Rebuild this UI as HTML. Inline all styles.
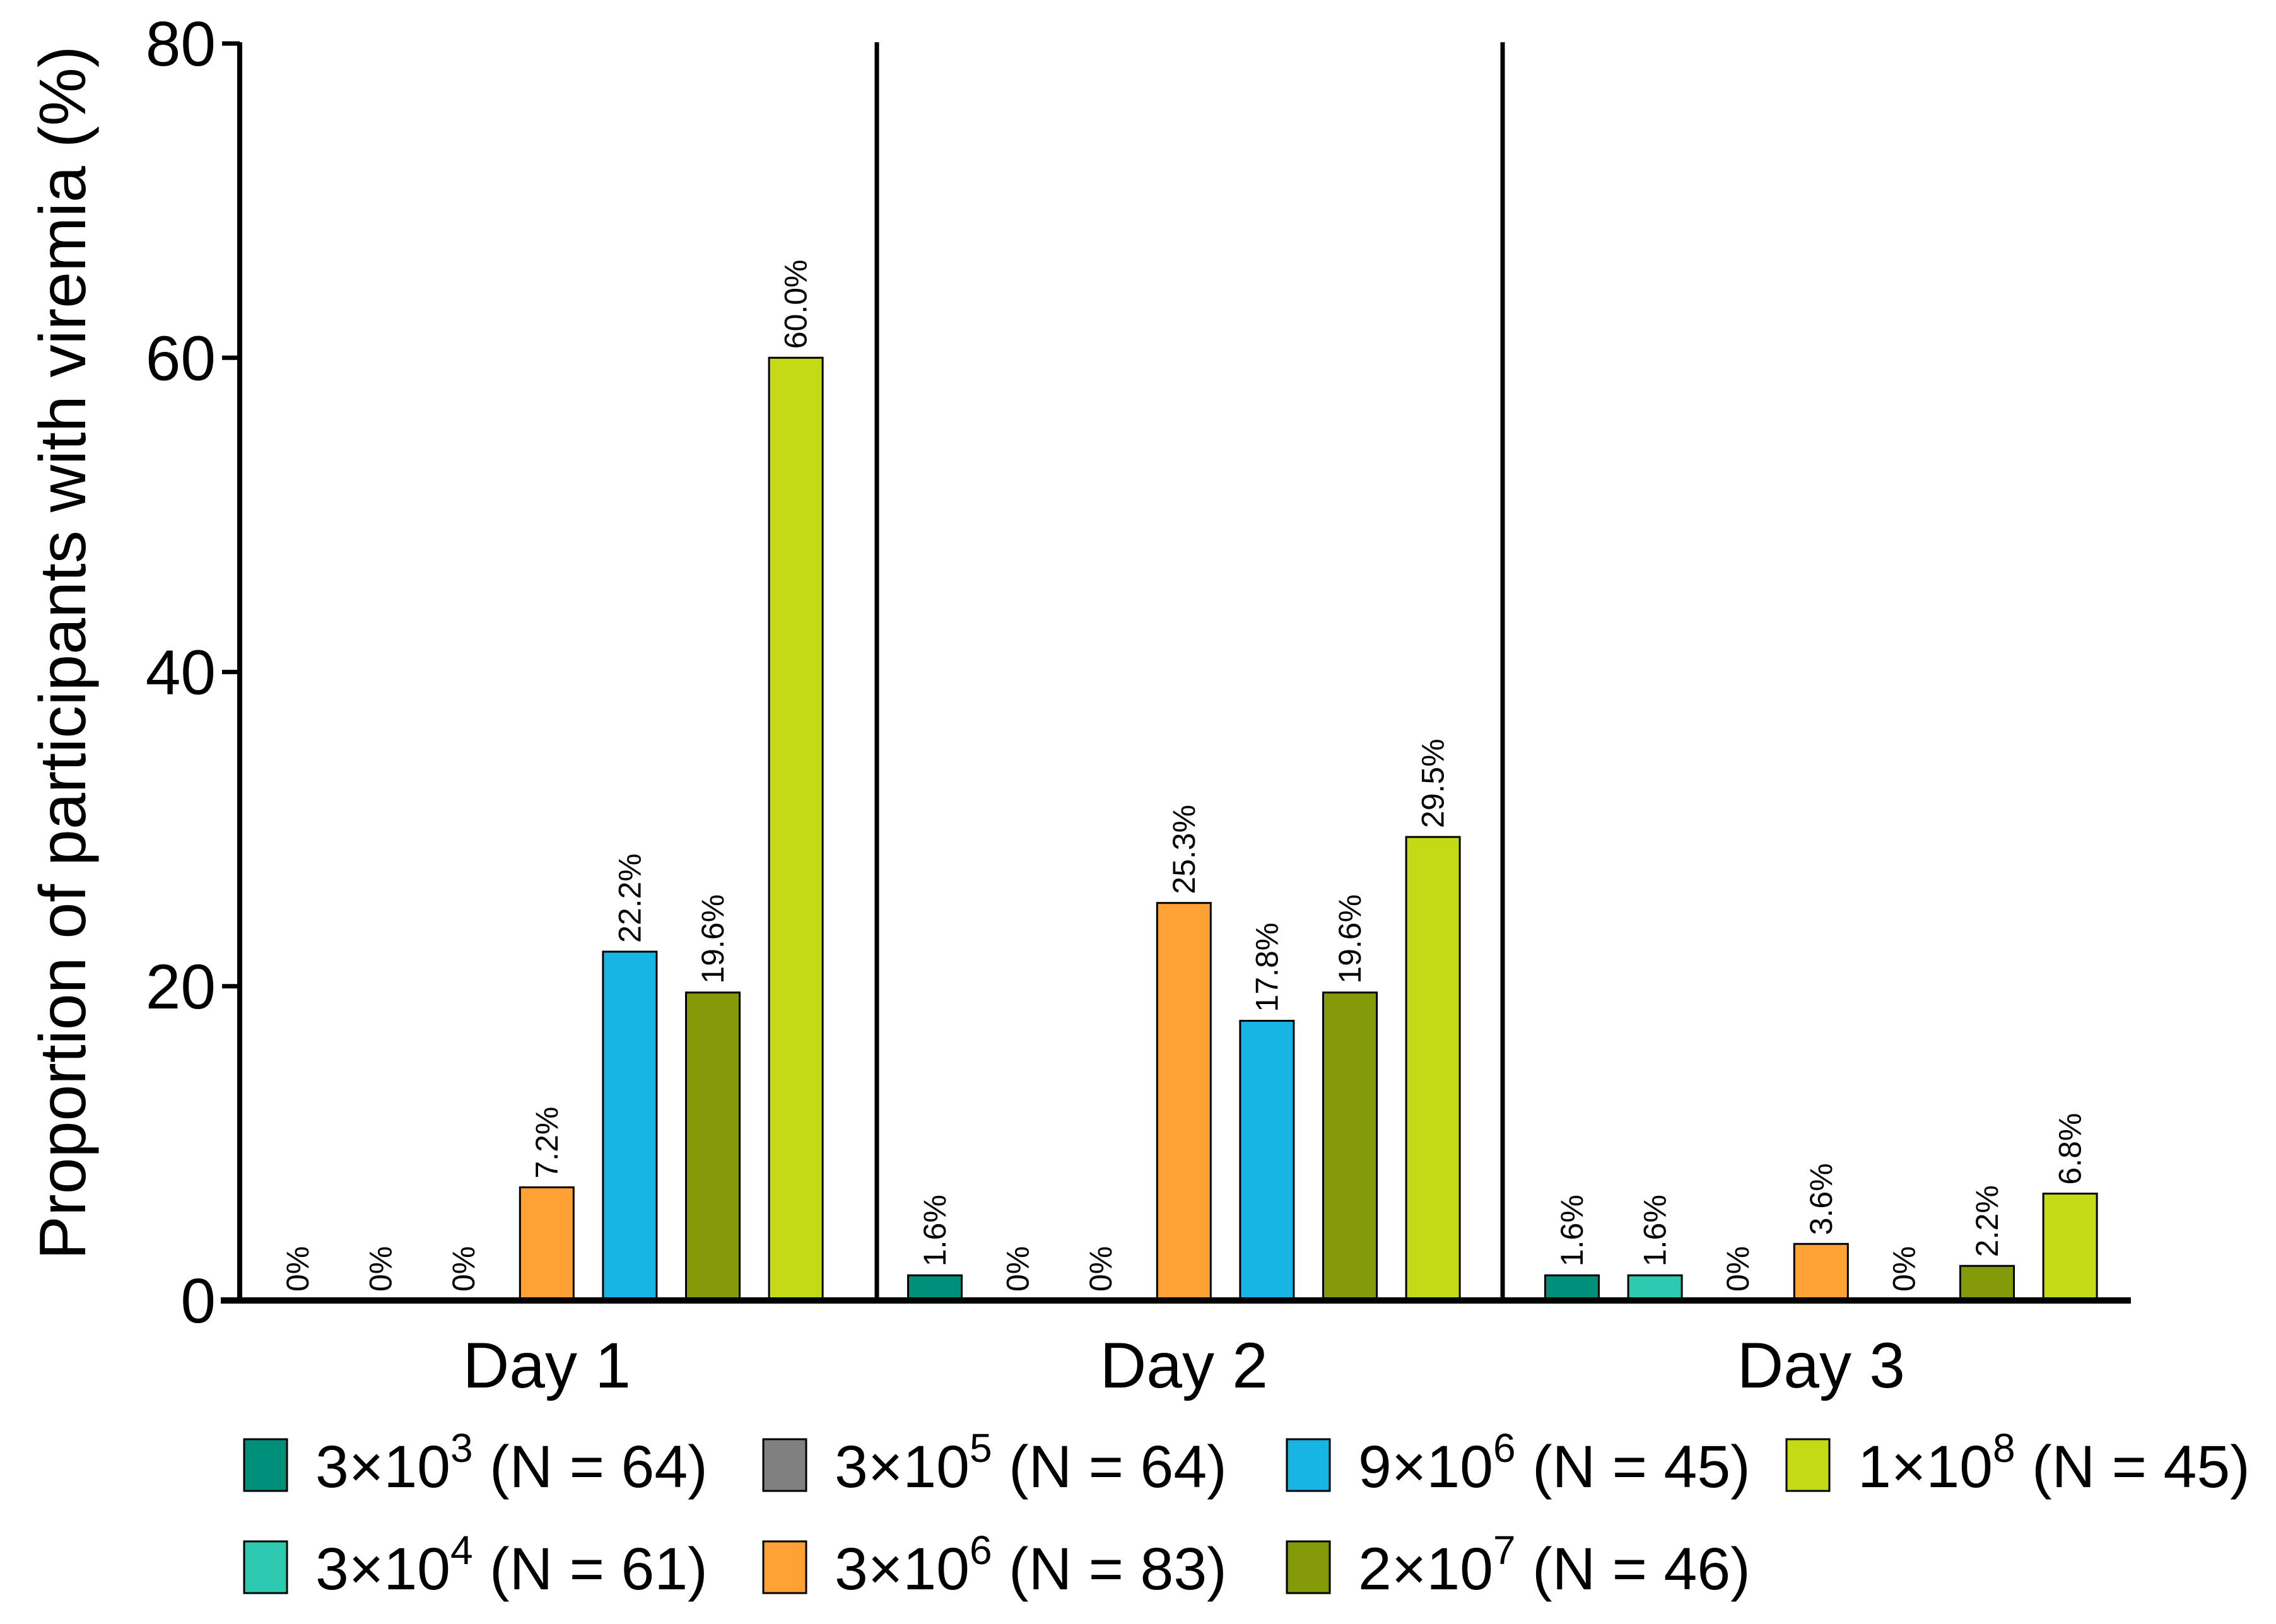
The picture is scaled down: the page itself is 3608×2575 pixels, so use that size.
<!DOCTYPE html>
<html><head><meta charset="utf-8"><style>
html,body{margin:0;padding:0;background:#fff;}
svg{display:block;font-family:"Liberation Sans",sans-serif;}
</style></head><body>
<svg id="chart" width="3608" height="2575" viewBox="0 0 3608 2575" xmlns="http://www.w3.org/2000/svg">
<g id="bars"></g>
<g id="axes"></g>
<g id="legend"></g>
</svg>
<script>
const days = ["Day 1", "Day 2", "Day 3"];
const doses = ["3×10³","3×10⁴","3×10⁵","3×10⁶","9×10⁶","2×10⁷","1×10⁸"];
const doseBase = ["3×10","3×10","3×10","3×10","9×10","2×10","1×10"];
const doseExp = ["3","4","5","6","6","7","8"];
const doseN = [64, 61, 64, 83, 45, 46, 45];
const day1 = [0, 0, 0, 7.2, 22.2, 19.6, 60.0];
const day2 = [1.6, 0, 0, 25.3, 17.8, 19.6, 29.5];
const day3 = [1.6, 1.6, 0, 3.6, 0, 2.2, 6.8];
const yTicks = [0, 20, 40, 60, 80];
const colors = ["#00907a","#2ecab0","#808080","#ffa135","#16b5e3","#849a08","#c4da14"];

const NS = "http://www.w3.org/2000/svg";
function mk(tag, attrs, parent, text){
  const e = document.createElementNS(NS, tag);
  for (const k in attrs) e.setAttribute(k, attrs[k]);
  if (text !== undefined) e.textContent = text;
  parent.appendChild(e); return e;
}
const x0 = 380, xEnd = 3378, yTop = 69, yZero = 2062, yMax = 80;
const y = v => yZero - (yZero - yTop) * v / yMax;
const firstCenter = 472, barStep = 131.6, groupStep = 1010, barW = 85;
const xc = (g, i) => firstCenter + g * groupStep + i * barStep;

const bars = document.getElementById('bars');
const axes = document.getElementById('axes');
const legend = document.getElementById('legend');
const series = [day1, day2, day3];

series.forEach((vals, g) => {
  vals.forEach((v, i) => {
    const cx = xc(g, i);
    if (v > 0) {
      const r = mk('rect', {x: cx - barW/2, y: y(v), width: barW, height: yZero - y(v), fill: colors[i], stroke: '#000', 'stroke-width': 3}, bars);
      
      
    }
    const label = v === 0 ? '0%' : v.toFixed(1) + '%';
    const ty = y(v) - 14;
    const t = mk('text', {x: cx + 17, y: ty, transform: `rotate(-90 ${cx + 17} ${ty})`, 'font-size': 50, fill: '#000'}, bars, label);
    
    
  });
});

let a = mk('line', {x1: x0, y1: yTop - 2, x2: x0, y2: yZero + 5, stroke: '#000', 'stroke-width': 8}, axes);
 
a = mk('line', {x1: x0 - 30, y1: yZero, x2: xEnd, y2: yZero, stroke: '#000', 'stroke-width': 10}, axes);
 
[1390, 2382].forEach((dx, k) => {
  const l = mk('line', {x1: dx, y1: yTop - 2, x2: dx, y2: yZero, stroke: '#000', 'stroke-width': 7}, axes);
  
  
});
yTicks.forEach(v => {
  const tl = mk('line', {x1: x0 - 28, y1: y(v), x2: x0, y2: y(v), stroke: '#000', 'stroke-width': 7}, axes);
  
  
  const tt = mk('text', {x: x0 - 38, y: y(v) + 35, 'text-anchor': 'end', 'font-size': 100, fill: '#000'}, axes, String(v));
  
  
});
days.forEach((d, g) => {
  const cx = xc(g, 3);
  const t = mk('text', {x: cx, y: 2200, 'text-anchor': 'middle', 'font-size': 102, fill: '#000'}, axes, d);
  
  
});
const yt = mk('text', {x: 0, y: 0, transform: 'translate(135 1035) rotate(-90)', 'text-anchor': 'middle', 'font-size': 104, fill: '#000'}, axes, 'Proportion of participants with viremia (%)');



const legPos = [[0,0],[0,1],[1,0],[1,1],[2,0],[2,1],[3,0]];
const colX = [387, 1210, 2040, 2832];
const rowY = [2324, 2486];
doses.forEach((d, i) => {
  const [c, r] = legPos[i];
  const gx = colX[c], gy = rowY[r];
  const g = mk('g', {}, legend);
  
  
  mk('rect', {x: gx, y: gy - 42, width: 68, height: 82, fill: colors[i], stroke: '#000', 'stroke-width': 3}, g);
  const t = mk('text', {x: gx + 113, y: gy + 34, 'font-size': 95, fill: '#000'}, g);
  mk('tspan', {}, t, doseBase[i]);
  mk('tspan', {dy: -40, 'font-size': 64}, t, doseExp[i]);
  mk('tspan', {dy: 40}, t, ' (N = ' + doseN[i] + ')');
});
</script>
</body></html>
